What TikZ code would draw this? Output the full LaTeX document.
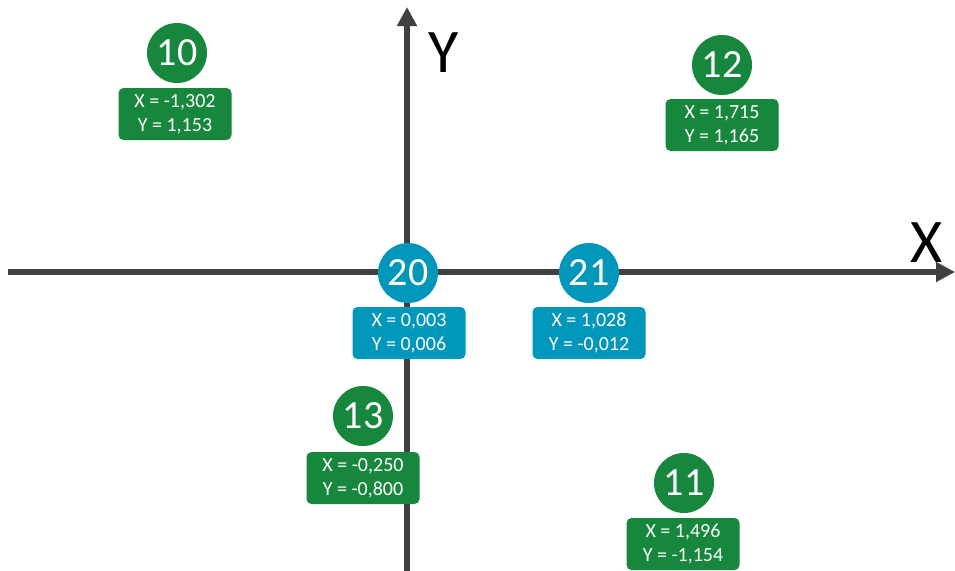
\documentclass[tikz,border=0pt]{standalone}
\usepackage{fontspec}
\setmainfont{Carlito}
\usetikzlibrary{arrows.meta}
\definecolor{ptgreen}{RGB}{22,135,60}
\definecolor{ptblue}{RGB}{0,151,186}
\definecolor{axisgray}{RGB}{64,64,64}
\begin{document}
\begin{tikzpicture}[x=1pt,y=-1pt,
  axis/.style={draw=axisgray,line width=5.5pt,-{Triangle[length=19pt,width=19pt]}},
  axislabel/.style={font=\fontsize{62}{62}\selectfont,text=black,inner sep=0pt},
  pointid/.style={circle,minimum size=60pt,inner sep=0pt,text=white,font=\fontsize{40}{40}\selectfont},
  coordbox/.style={rounded corners=5pt,minimum width=113pt,minimum height=52pt,inner sep=0pt,
    text=white,align=center,font=\fontsize{20}{24}\selectfont},
  fixed/.style={fill=ptgreen},
  measured/.style={fill=ptblue}]
\useasboundingbox (0,0) rectangle (955,570);

% axes
\coordinate (yfoot) at (407,572);
\coordinate (ytip) at (407,7);
\coordinate (xfoot) at (8,272);
\coordinate (xtip) at (955,272);
\draw[axis] (yfoot) -- (ytip);
\draw[axis] (xfoot) -- (xtip);
\node[axislabel] (ylab) at (444,53) {Y};
\node[axislabel] (xlab) at (927,243) {X};

% fixed points
\node[pointid,fixed] (p10) at (177,53) {10};
\node[coordbox,fixed] (b10) at (175,114) {X = -1,302\\Y = 1,153};
\node[pointid,fixed] (p12) at (722,65) {12};
\node[coordbox,fixed] (b12) at (722,125) {X = 1,715\\Y = 1,165};
\node[pointid,fixed] (p13) at (363,416) {13};
\node[coordbox,fixed] (b13) at (363,478) {X = -0,250\\Y = -0,800};
\node[pointid,fixed] (p11) at (684,483) {11};
\node[coordbox,fixed] (b11) at (683,544) {X = 1,496\\Y = -1,154};

% measured points
\node[pointid,measured] (p20) at (408,273) {20};
\node[coordbox,measured] (b20) at (409,333) {X = 0,003\\Y = 0,006};
\node[pointid,measured] (p21) at (589,273) {21};
\node[coordbox,measured] (b21) at (589,333) {X = 1,028\\Y = -0,012};
\end{tikzpicture}
\end{document}
